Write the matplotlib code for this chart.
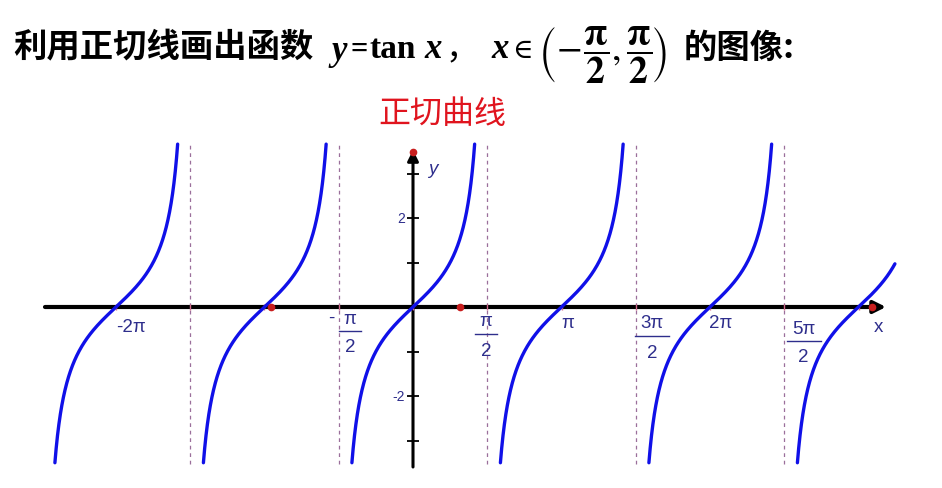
import numpy as np
import matplotlib
matplotlib.use("Agg")
import matplotlib.pyplot as plt

# ---- data ----
branch_centers = [-2, -1, 0, 1, 2, 3]            # in units of pi
branch_ymin = [-3.5, -3.5, -3.5, -3.5, -3.5, -3.5]
branch_ymax = [3.66, 3.66, 3.66, 3.66, 3.66, 0.97]
asymptotes = [-1.5, -0.5, 0.5, 1.5, 2.5]          # in units of pi
y_ticks = [-3, -2, -1, 1, 2, 3]
y_tick_labels = {2: "2", -2: "-2"}
red_dots_x = [-3.0, 1.0, 9.7]
red_dot_y = 3.48
frac_labels = [("π", -0.5, 0.075), ("π", 0.5, -0.01), ("3π", 1.5, 0.11), ("5π", 2.5, 0.13)]
pi_labels = [("π", 1.0, 0.045), ("2π", 2.0, 0.07)]

# ---- geometry (pixels) ----
W, H = 942, 489
x0px, y0px = 413.0, 308.0
px_pi, px_unit = 148.5, 44.5
PI = np.pi

def dx(px):
    return (px - x0px) / px_pi * PI

def dy(py):
    return (y0px - py) / px_unit

fig = plt.figure(figsize=(W / 100, H / 100), dpi=100)
fig.patch.set_facecolor("white")
ax = fig.add_axes([0, (H - 480) / H, 1, 350 / H])
ax.set_xlim(dx(0), dx(W))
ax.set_ylim(dy(480), dy(130))
ax.axis("off")

lab_col = "#2e2e8c"
lab_font = "Liberation Sans"
lab_fs = 13.5

# asymptotes
for a in asymptotes:
    ax.plot([a * PI, a * PI], [dy(465), dy(145)], color="#9b6f9b", lw=0.9,
            dashes=(3, 3), zorder=1)

# axes with arrows
ax.annotate("", xy=(dx(886), 0), xytext=(dx(45), 0),
            arrowprops=dict(arrowstyle="-|>", lw=3.0, color="black",
                            mutation_scale=18, shrinkA=0, shrinkB=0), zorder=3)
ax.annotate("", xy=(0, dy(151)), xytext=(0, dy(468)),
            arrowprops=dict(arrowstyle="-|>", lw=2.2, color="black",
                            mutation_scale=16, shrinkA=0, shrinkB=0), zorder=3)

# y ticks
ax.plot([0] * len(y_ticks), y_ticks, ls="none", marker="_", ms=9, mew=1.3,
        color="black", zorder=3)
for v, s in y_tick_labels.items():
    ax.text(dx(405), v, s, ha="right", va="center", fontsize=10,
            color=lab_col, family=lab_font)

# small x ticks (pink)
xt = np.arange(-4, 7) * 0.5 * PI
ax.plot(xt, np.zeros_like(xt), ls="none", marker="|", ms=5, mew=1.0,
        color="#d06a8a", zorder=4)

# tangent branches
for c, lo, hi in zip(branch_centers, branch_ymin, branch_ymax):
    yy = np.linspace(lo, hi, 400)
    xx = c * PI + np.arctan(yy)
    ax.plot(xx, yy, color="#1010e8", lw=2.4, zorder=5, solid_capstyle="round")

# red dots
ax.plot(red_dots_x, [0] * len(red_dots_x), "o", ms=4.5, color="#c81e1e", zorder=6)
ax.plot([0], [red_dot_y], "o", ms=4.5, color="#c81e1e", zorder=6)

# x labels
ax.text(-2 * PI, dy(327), "-2π", ha="left", va="center", fontsize=lab_fs,
        color=lab_col, family=lab_font)
for s, xp, off in pi_labels:
    ax.text(xp * PI + off * PI, dy(323), s, ha="center", va="center",
            fontsize=lab_fs, color=lab_col, family=lab_font)

frac_y = {-0.5: 332, 0.5: 335, 1.5: 337, 2.5: 342}
for s, xp, off in frac_labels:
    cx = xp * PI + off * PI
    by = frac_y[xp]
    ax.text(cx, dy(by - 13), s, ha="center", va="center", fontsize=lab_fs,
            color=lab_col, family=lab_font)
    ax.text(cx, dy(by + 16), "2", ha="center", va="center", fontsize=lab_fs,
            color=lab_col, family=lab_font)
    hw = 17 if len(s) > 1 else 11
    ax.plot([cx - hw / px_pi * PI, cx + hw / px_pi * PI], [dy(by), dy(by)],
            color=lab_col, lw=1.0)
ax.text(dx(331), dy(318), "-", ha="center", va="center", fontsize=lab_fs,
        color=lab_col, family=lab_font)

ax.text(dx(878), dy(327), "x", ha="center", va="center", fontsize=lab_fs,
        color=lab_col, family=lab_font)
ax.text(dx(433), dy(169), "y", ha="center", va="center", fontsize=lab_fs,
        color=lab_col, family=lab_font, style="italic")

# ---- titles ----
def ft(xp, yp, s, **kw):
    fig.text(xp / W, 1 - yp / H, s, **kw)

cjk = ["Noto Sans CJK SC", "DejaVu Sans"]
ft(13, 48, "利用正切线画出函数", ha="left", va="center", fontsize=24,
   family=cjk, weight="bold", color="black")
ft(331, 52, "y", ha="left", va="center", fontsize=25, family="Liberation Serif",
   style="italic", weight="bold")
ft(350, 50, "=", ha="left", va="center", fontsize=22, family="Liberation Serif",
   weight="bold")
ft(370, 50, "tan", ha="left", va="center", fontsize=24, family="Liberation Serif",
   weight="bold")
ft(424, 50, "x", ha="left", va="center", fontsize=25, family="Liberation Serif",
   style="italic", weight="bold")
ft(446, 50, "，", ha="left", va="center", fontsize=24, family=cjk)
ft(491, 50, "x", ha="left", va="center", fontsize=25, family="Liberation Serif",
   style="italic", weight="bold")
ft(512, 51, "∈", ha="left", va="center", fontsize=20, family="DejaVu Serif")
fig.text(538 / W, 1 - 55 / H,
         r"$\left(\!-\!\dfrac{\mathbf{\pi}}{\mathbf{2}},\dfrac{\mathbf{\pi}}{\mathbf{2}}\!\right)$",
         ha="left", va="center", fontsize=27, math_fontfamily="stix")
ft(684, 48, "的图像:", ha="left", va="center", fontsize=24, family=cjk,
   weight="bold")

ft(442, 114, "正切曲线", ha="center", va="center", fontsize=23, family=cjk,
   color="#e0141e", weight="medium")

fig.savefig("out.png", dpi=100, facecolor="white")
